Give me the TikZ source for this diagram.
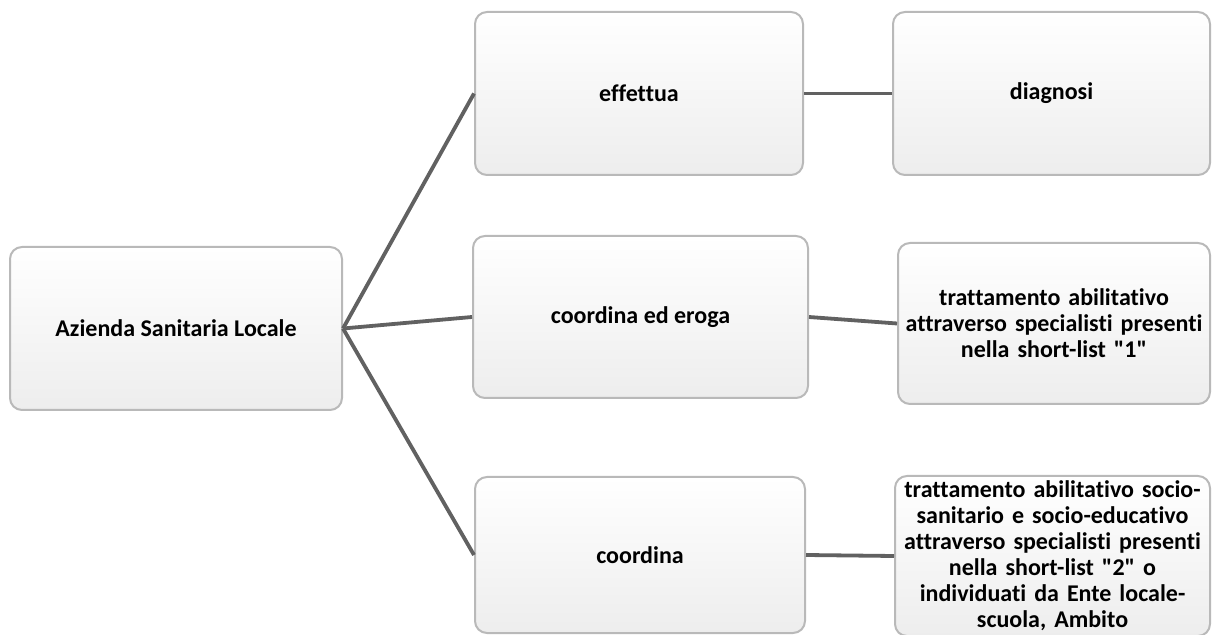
\documentclass[tikz,border=0pt]{standalone}
\usepackage{fontspec}
\setmainfont{Carlito}[Ligatures={TeXOff,NoCommon}]
\begin{document}
\begin{tikzpicture}[x=0.5pt,y=-0.5pt,
  box/.style={draw=gray!55, line width=1pt, rounded corners=6pt,
    top color=white, bottom color=gray!14, inner sep=0pt,
    align=center, font=\fontsize{12}{13}\selectfont\bfseries, text=black},
  link/.style={draw=black!62, line width=1.9pt}]
\useasboundingbox (0,0) rectangle (1214,635);
\node[box, minimum width=166pt, minimum height=81.5pt] (asl) at (176,328.5) {Azienda Sanitaria Locale};
\node[box, minimum width=164pt, minimum height=81.5pt] (eff) at (639,93.5) {effettua};
\node[box, minimum width=158.5pt, minimum height=81.5pt, text width=155pt] (diag) at (1051.5,93.5) {diagnosi};
\node[box, minimum width=167.5pt, minimum height=81pt] (coe) at (640.5,317) {coordina ed eroga};
\node[box, minimum width=156pt, minimum height=80.5pt, text width=155pt] (tr1) at (1054,323.5) {trattamento abilitativo\\attraverso specialisti presenti\\nella short-list "1"};
\node[box, minimum width=165pt, minimum height=78pt] (coo) at (640,555) {coordina};
\node[box, minimum width=157.5pt, minimum height=80pt, text width=155pt] (tr2) at (1052.5,556) {trattamento abilitativo socio-\\sanitario e socio-educativo\\attraverso specialisti presenti\\nella short-list "2" o\\individuati da Ente locale-\\scuola, Ambito};
\draw[link] (asl.east) -- (eff.west);
\draw[link] (asl.east) -- (coe.west);
\draw[link] (asl.east) -- (coo.west);
\draw[link] (eff.east) -- (diag.west);
\draw[link] (coe.east) -- (tr1.west);
\draw[link] (coo.east) -- (tr2.west);
\end{tikzpicture}
\end{document}
